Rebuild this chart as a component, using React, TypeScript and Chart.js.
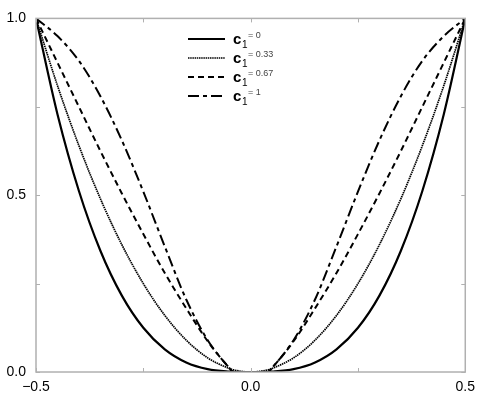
import React, { useEffect, useRef } from "react";
import { Chart, registerables } from "chart.js";

Chart.register(...registerables);

const xValues = [-0.5, -0.45, -0.4, -0.35, -0.3, -0.25, -0.2, -0.15, -0.1, -0.05, -0.04, 0, 0.04, 0.05, 0.1, 0.15, 0.2, 0.25, 0.3, 0.35, 0.4, 0.45, 0.5];
const seriesC0 = [1, 0.729, 0.512, 0.343, 0.216, 0.125, 0.064, 0.027, 0.008, 0.001, 0.0005, 0, 0.0005, 0.001, 0.008, 0.027, 0.064, 0.125, 0.216, 0.343, 0.512, 0.729, 1];
const seriesC033 = [1, 0.81, 0.64, 0.49, 0.36, 0.25, 0.16, 0.09, 0.04, 0.01, 0.006, 0, 0.006, 0.01, 0.04, 0.09, 0.16, 0.25, 0.36, 0.49, 0.64, 0.81, 1];
const seriesC067 = [1, 0.875, 0.75, 0.625, 0.505, 0.39, 0.28, 0.18, 0.087, 0.012, 0, 0, 0, 0.012, 0.087, 0.18, 0.28, 0.39, 0.505, 0.625, 0.75, 0.875, 1];
const seriesC1 = [1, 0.95, 0.88, 0.78, 0.655, 0.51, 0.355, 0.205, 0.09, 0.012, 0, 0, 0, 0.012, 0.09, 0.205, 0.355, 0.51, 0.655, 0.78, 0.88, 0.95, 1];
const legendValues = ["0", "0.33", "0.67", "1"];
const xTickLabels: Record<string, string> = { "-0.5": "\u22120.5", "0": "0.0", "0.5": "0.5" };
const yTickLabels: Record<string, string> = { "0": "0.0", "0.5": "0.5", "1": "1.0" };

const dashes: number[][] = [[], [1.5, 0.7], [6, 4], [11, 4, 4, 4]];
const widths = [2.2, 1.7, 2, 2];
const seriesList = [seriesC0, seriesC033, seriesC067, seriesC1];

const FONT = "'Liberation Sans', Arial, Helvetica, sans-serif";

const framePlugin = {
  id: "frame",
  afterDatasetsDraw(chart: any) {
    const { ctx, chartArea: a, scales } = chart;
    ctx.save();
    ctx.strokeStyle = "#b0b0b0";
    ctx.lineWidth = 1.5;
    ctx.strokeRect(a.left, a.top, a.right - a.left, a.bottom - a.top);
    const L = 4;
    ctx.lineWidth = 1;
    ctx.beginPath();
    for (const t of scales.x.ticks) {
      const px = Math.round(scales.x.getPixelForValue(t.value)) + 0.5;
      ctx.moveTo(px, a.bottom);
      ctx.lineTo(px, a.bottom - L);
      ctx.moveTo(px, a.top);
      ctx.lineTo(px, a.top + L);
    }
    for (const t of scales.y.ticks) {
      const py = Math.round(scales.y.getPixelForValue(t.value)) + 0.5;
      ctx.moveTo(a.left, py);
      ctx.lineTo(a.left + L, py);
      ctx.moveTo(a.right, py);
      ctx.lineTo(a.right - L, py);
    }
    ctx.stroke();
    ctx.restore();
  },
  afterDraw(chart: any) {
    const { ctx } = chart;
    ctx.save();
    const x0 = 188;
    const x1 = 225;
    chart.data.datasets.forEach((ds: any, i: number) => {
      const y = 39 + i * 19;
      ctx.strokeStyle = "#000";
      ctx.lineWidth = ds.borderWidth;
      ctx.setLineDash(ds.borderDash || []);
      ctx.beginPath();
      ctx.moveTo(x0, y);
      ctx.lineTo(x1, y);
      ctx.stroke();
      ctx.setLineDash([]);
      ctx.fillStyle = "#000";
      ctx.textBaseline = "alphabetic";
      ctx.textAlign = "left";
      ctx.font = `bold 15px ${FONT}`;
      ctx.fillText("c", 233, y + 5);
      ctx.font = `10px ${FONT}`;
      ctx.fillText("1", 242, y + 9);
      ctx.fillStyle = "#444";
      ctx.font = `9px ${FONT}`;
      ctx.fillText("= " + legendValues[i], 248, y - 1);
    });
    ctx.restore();
  },
};

export default function App() {
  const ref = useRef<HTMLCanvasElement | null>(null);
  useEffect(() => {
    document.body.style.margin = "0";
    const canvas = ref.current!;
    const chart = new Chart(canvas, {
      type: "line",
      data: {
        datasets: seriesList.map((s, i) => ({
          label: "c1 = " + legendValues[i],
          data: xValues.map((x, j) => ({ x, y: s[j] })),
          borderColor: "#000",
          borderWidth: widths[i],
          borderDash: dashes[i],
          pointRadius: 0,
          fill: false,
          cubicInterpolationMode: "monotone" as const,
        })),
      },
      options: {
        responsive: false,
        animation: false,
        layout: { padding: { top: 14, right: 15, left: 0, bottom: 0 } },
        plugins: { legend: { display: false }, tooltip: { enabled: false } },
        scales: {
          x: {
            type: "linear",
            min: -0.5,
            max: 0.5,
            grid: { display: false, drawTicks: false },
            border: { display: false },
            afterFit: (s: any) => { s.height = 24; },
            ticks: {
              stepSize: 0.25,
              padding: 7,
              maxRotation: 0,
              autoSkip: false,
              color: "#000",
              font: { family: FONT, size: 14 },
              callback: (v: any) => xTickLabels[String(Math.round(v * 100) / 100)] ?? "",
            },
          },
          y: {
            type: "linear",
            min: 0,
            max: 1,
            grid: { display: false, drawTicks: false },
            border: { display: false },
            afterFit: (s: any) => { s.width = 36; },
            ticks: {
              stepSize: 0.25,
              padding: 10,
              autoSkip: false,
              color: "#000",
              font: { family: FONT, size: 14 },
              callback: (v: any) => yTickLabels[String(Math.round(v * 100) / 100)] ?? "",
            },
          },
        },
      },
      plugins: [framePlugin],
    });
    return () => chart.destroy();
  }, []);
  return (
    <div style={{ width: 482, height: 396, background: "#fff" }}>
      <canvas ref={ref} width={482} height={396} style={{ display: "block" }} />
    </div>
  );
}
